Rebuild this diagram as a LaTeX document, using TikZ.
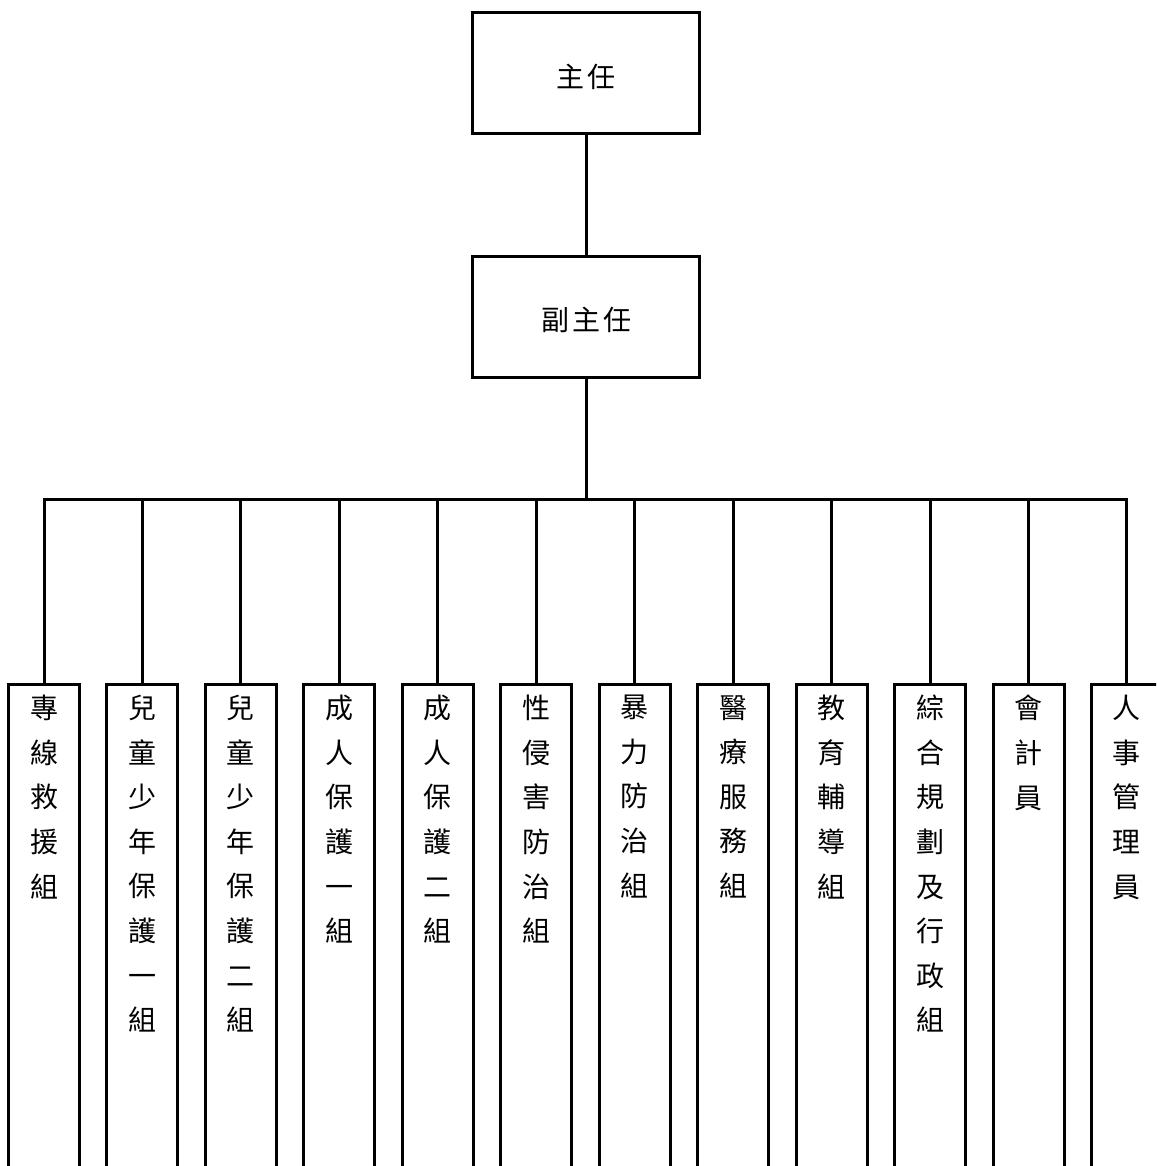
\documentclass[tikz,border=0pt]{standalone}
\usepackage{fontspec}
\newfontfamily\cjk{Noto Sans CJK TC}
\begin{document}
\begin{tikzpicture}[x=1pt,y=-1pt,
  box/.style={draw,line width=3pt,inner sep=0pt,fill=none},
  colbox/.style={box,minimum width=71pt,minimum height=560pt,anchor=north},
  lbl/.style={font=\cjk\fontsize{28}{44.6}\selectfont,inner sep=0pt},
  collbl/.style={lbl,align=center,anchor=north},
  conn/.style={line width=3pt,line join=miter}]
\useasboundingbox (0,0) rectangle (1156,1166);
\clip (0,0) rectangle (1156,1166);
% top boxes
\node[box,minimum width=227pt,minimum height=121pt] (dir) at (586,73.5) {};
\node[lbl] (dirt) at (586,76.5) {主\hspace{3pt}任};
\node[box,minimum width=227pt,minimum height=121pt] (dep) at (586,317) {};
\node[lbl] (dept) at (586,319.5) {副\hspace{3pt}主\hspace{3pt}任};
\draw[conn] (dir.south) -- (dep.north);
\coordinate (bus) at (586,499);
\draw[conn] (dep.south) -- (bus);
% columns
\foreach \i/\t in {1/{專\\線\\救\\援\\組},
                   2/{兒\\童\\少\\年\\保\\護\\一\\組},
                   3/{兒\\童\\少\\年\\保\\護\\二\\組},
                   4/{成\\人\\保\\護\\一\\組},
                   5/{成\\人\\保\\護\\二\\組},
                   6/{性\\侵\\害\\防\\治\\組},
                   7/{暴\\力\\防\\治\\組},
                   8/{醫\\療\\服\\務\\組},
                   9/{教\\育\\輔\\導\\組},
                   10/{綜\\合\\規\\劃\\及\\行\\政\\組},
                   11/{會\\計\\員},
                   12/{人\\事\\管\\理\\員}}{
  \node[colbox] (b\i) at ({44+(\i-1)*98.45},683) {};
  \node[collbl] (t\i) at ({44+(\i-1)*98.45},695) {\t};
}
\draw[conn] (b1.north) -- (b1.north |- bus) -- (b12.north |- bus) -- (b12.north);
\foreach \i in {2,...,11}{
  \draw[conn] (b\i.north |- bus) -- (b\i.north);
}
\end{tikzpicture}
\end{document}
